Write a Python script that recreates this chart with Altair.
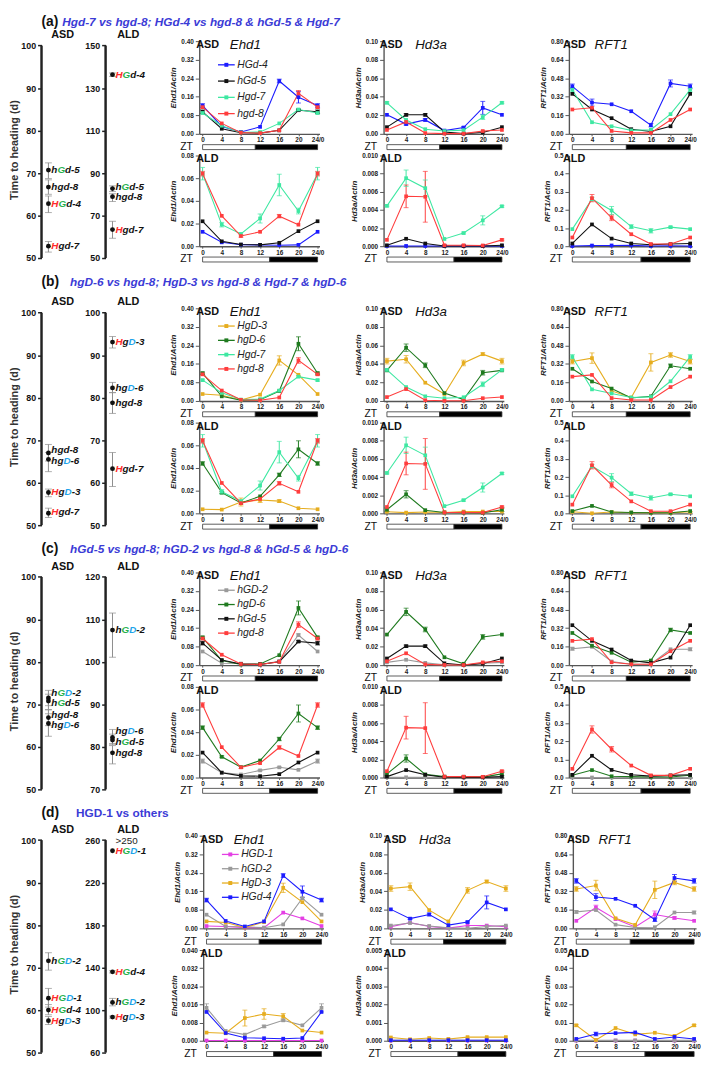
import altair as alt
import pandas as pd

FONT = "Liberation Sans"

ZT = [0, 4, 8, 12, 16, 20, 24]
LIGHT_END = {"ASD": 11, "ALD": 14}

GENE_COLORS = {
    "HGD-1": "#e43fe4", "hGD-2": "#9a9a9a", "HgD-3": "#e6ad1f", "HGd-4": "#1c1cff",
    "hGd-5": "#111111", "hgD-6": "#1f7a1f", "Hgd-7": "#3ee8a2", "hgd-8": "#ff3d3d",
}
LETTER_COLORS = {"H": "#ff2b2b", "G": "#25b04a", "D": "#1ea4ea"}
BOLD_W = {"h": 611, "g": 611, "d": 611, "H": 722, "G": 778, "D": 722, "-": 333}

# ---------------- expression data ----------------
EHD1_ASD = {
    "HGD-1": [0.010, 0.008, 0.003, 0.003, 0.068, 0.043, 0.010],
    "hGD-2": [0.059, 0.008, 0.007, 0.003, 0.017, 0.130, 0.059],
    "HgD-3": [0.030, 0.025, 0.004, 0.027, 0.175, 0.113, 0.030],
    "HGd-4": [0.122, 0.032, 0.008, 0.030, 0.228, 0.158, 0.122],
    "hGd-5": [0.095, 0.022, 0.005, 0.003, 0.015, 0.102, 0.095],
    "hgD-6": [0.120, 0.020, 0.003, 0.005, 0.043, 0.247, 0.120],
    "Hgd-7": [0.090, 0.035, 0.006, 0.008, 0.045, 0.105, 0.090],
    "hgd-8": [0.115, 0.045, 0.005, 0.003, 0.015, 0.175, 0.115],
}
EHD1_ASD_ERR = {
    "hGD-2": [0, 0, 0, 0, 0, 0.005, 0],
    "HgD-3": [0, 0, 0, 0, 0.02, 0, 0],
    "HGd-4": [0.008, 0, 0, 0, 0.008, 0.025, 0.008],
    "hGd-5": [0.008, 0, 0, 0, 0, 0.004, 0.008],
    "hgD-6": [0.005, 0, 0, 0, 0, 0.03, 0.005],
    "Hgd-7": [0.004, 0, 0, 0, 0, 0.004, 0.004],
    "hgd-8": [0.005, 0, 0, 0, 0, 0.012, 0.005],
}
EHD1_ALD = {
    "HGD-1": [0.0001, 0.0001, 0.0001, 0.0001, 0.0001, 0.0001, 0.0001],
    "hGD-2": [0.0145, 0.0043, 0.0027, 0.0063, 0.0090, 0.0068, 0.0145],
    "HgD-3": [0.0036, 0.0033, 0.0100, 0.0118, 0.0108, 0.0045, 0.0036],
    "HGd-4": [0.0127, 0.0034, 0.0013, 0.0011, 0.0009, 0.0012, 0.0127],
    "hGd-5": [0.0220, 0.0043, 0.0015, 0.0012, 0.0030, 0.0133, 0.0220],
    "hgD-6": [0.0440, 0.0183, 0.0092, 0.0150, 0.0340, 0.0565, 0.0440],
    "Hgd-7": [0.0640, 0.0190, 0.0108, 0.0245, 0.0540, 0.0310, 0.0640],
    "hgd-8": [0.0640, 0.0268, 0.0090, 0.0127, 0.0265, 0.0190, 0.0640],
}
EHD1_ALD_ERR = {
    "hGD-2": [0.0018, 0, 0, 0.0005, 0.0005, 0, 0.0018],
    "HgD-3": [0, 0, 0.0035, 0.0023, 0.0012, 0, 0],
    "hgD-6": [0.0015, 0.0008, 0, 0, 0.0015, 0.0075, 0.0015],
    "Hgd-7": [0.0055, 0.002, 0, 0.004, 0.0095, 0.0025, 0.0055],
    "hgd-8": [0.002, 0, 0.001, 0, 0.0015, 0, 0.002],
}
HD3A_ASD = {
    "HGD-1": [0.0018, 0.0062, 0.0020, 0.0003, 0.0030, 0.0030, 0.0018],
    "hGD-2": [0.0030, 0.0058, 0.0025, 0.0005, 0.0002, 0.0020, 0.0030],
    "HgD-3": [0.0430, 0.0450, 0.0197, 0.0075, 0.0410, 0.0505, 0.0430],
    "HGd-4": [0.0205, 0.0105, 0.0150, 0.0035, 0.0068, 0.0280, 0.0205],
    "hGd-5": [0.0072, 0.0205, 0.0205, 0.0020, 0.0002, 0.0015, 0.0072],
    "hgD-6": [0.0330, 0.0575, 0.0385, 0.0085, 0.0015, 0.0305, 0.0330],
    "Hgd-7": [0.0335, 0.0150, 0.0050, 0.0030, 0.0040, 0.0180, 0.0335],
    "hgd-8": [0.0042, 0.0128, 0.0008, 0.0002, 0.0002, 0.0030, 0.0042],
}
HD3A_ASD_ERR = {
    "HgD-3": [0.003, 0.004, 0, 0, 0.003, 0.0015, 0.003],
    "HGd-4": [0, 0.001, 0.0015, 0, 0.001, 0.007, 0],
    "hGd-5": [0, 0.0012, 0.0012, 0, 0, 0, 0],
    "hgD-6": [0, 0.004, 0.0025, 0, 0, 0.0025, 0],
    "Hgd-7": [0.001, 0, 0, 0, 0, 0.0025, 0.001],
}
HD3A_ALD = {
    "HGD-1": [0.00001, 0.00001, 0.00001, 0.00001, 0.00001, 0.00001, 0.00001],
    "hGD-2": [0.00003, 0.00003, 0.00003, 0.00003, 0.00003, 0.00003, 0.00003],
    "HgD-3": [0.00018, 0.00008, 0.00015, 0.00010, 0.00020, 0.00020, 0.00020],
    "HGd-4": [0.00003, 0.00003, 0.00003, 0.00003, 0.00003, 0.00003, 0.00003],
    "hGd-5": [0.00010, 0.00082, 0.00030, 0.00003, 0.00002, 0.00002, 0.00010],
    "hgD-6": [0.00040, 0.00210, 0.00035, 0.00010, 0.00008, 0.00005, 0.00040],
    "Hgd-7": [0.00445, 0.00750, 0.00640, 0.00080, 0.00145, 0.00285, 0.00440],
    "hgd-8": [0.00070, 0.00550, 0.00545, 0.00010, 0.00010, 0.00008, 0.00070],
}
HD3A_ALD_ERR = {
    "hgD-6": [0.0002, 0.0004, 0, 0, 0, 0, 0.0002],
    "Hgd-7": [0.0001, 0.0009, 0.0009, 0, 0.0001, 0.0005, 0.0001],
    "hgd-8": [0, 0.00125, 0.0028, 0, 0, 0, 0.0001],
}
RFT1_ASD = {
    "HGD-1": [0.065, 0.180, 0.080, 0.012, 0.120, 0.090, 0.065],
    "hGD-2": [0.142, 0.158, 0.032, 0.008, 0.010, 0.137, 0.137],
    "HgD-3": [0.340, 0.370, 0.087, 0.030, 0.333, 0.397, 0.340],
    "HGd-4": [0.410, 0.270, 0.255, 0.195, 0.075, 0.435, 0.410],
    "hGd-5": [0.345, 0.210, 0.135, 0.040, 0.020, 0.065, 0.345],
    "hgD-6": [0.278, 0.168, 0.107, 0.026, 0.040, 0.304, 0.278],
    "Hgd-7": [0.380, 0.100, 0.065, 0.030, 0.035, 0.170, 0.380],
    "hgd-8": [0.210, 0.225, 0.025, 0.008, 0.008, 0.120, 0.210],
}
RFT1_ASD_ERR = {
    "HGD-1": [0, 0.02, 0, 0, 0.03, 0.01, 0],
    "hGD-2": [0.012, 0, 0, 0, 0, 0, 0.012],
    "HgD-3": [0.02, 0.045, 0, 0, 0.075, 0.02, 0.02],
    "HGd-4": [0.02, 0.03, 0, 0, 0.015, 0.03, 0.02],
    "hgD-6": [0, 0, 0, 0, 0, 0.015, 0],
    "Hgd-7": [0.02, 0, 0, 0, 0, 0, 0.02],
}
RFT1_ALD = {
    "HGD-1": [0.0001, 0.0001, 0.0001, 0.0001, 0.0001, 0.0001, 0.0001],
    "hGD-2": [0.0002, 0.0002, 0.0002, 0.0002, 0.0002, 0.0002, 0.0002],
    "HgD-3": [0.0085, 0.0004, 0.0070, 0.0035, 0.0044, 0.0027, 0.0085],
    "HGd-4": [0.0010, 0.0037, 0.0042, 0.0046, 0.0010, 0.0021, 0.0010],
    "hGd-5": [0.015, 0.120, 0.042, 0.015, 0.008, 0.012, 0.015],
    "hgD-6": [0.0125, 0.041, 0.007, 0.005, 0.003, 0.003, 0.0125],
    "Hgd-7": [0.094, 0.260, 0.197, 0.108, 0.085, 0.105, 0.094],
    "hgd-8": [0.048, 0.265, 0.156, 0.066, 0.012, 0.012, 0.048],
}
RFT1_ALD_ERR = {
    "HgD-3": [0.0005, 0, 0, 0, 0, 0, 0.0005],
    "HGd-4": [0, 0.001, 0, 0, 0, 0, 0],
    "Hgd-7": [0, 0.01, 0.022, 0.01, 0.012, 0.005, 0],
    "hgd-8": [0, 0.02, 0.015, 0, 0, 0, 0],
}

# ---------------- heading-time data ----------------
A_ASD_GENES = ["hGd-5", "hgd-8", "HGd-4", "Hgd-7"]
A_ASD_MEAN = [70.7, 66.7, 62.8, 52.8]
A_ASD_LOW = [68.7, 65.0, 60.7, 51.4]
A_ASD_HIGH = [72.4, 68.4, 64.6, 53.9]
A_ALD_GENES = ["HGd-4", "hGd-5", "hgd-8", "Hgd-7"]
A_ALD_MEAN = [136.3, 82.7, 78.9, 63.4]
A_ALD_LOW = [135.5, 81.3, 76.6, 59.3]
A_ALD_HIGH = [137.1, 84.0, 80.3, 67.3]
A_ALD_LABEL_Y = [136.3, 83.6, 78.6, 63.4]

B_ASD_GENES = ["hgd-8", "hgD-6", "HgD-3", "Hgd-7"]
B_ASD_MEAN = [67.0, 65.5, 57.7, 52.8]
B_ASD_LOW = [65.1, 62.6, 56.7, 51.8]
B_ASD_HIGH = [69.0, 67.1, 58.5, 54.0]
B_ASD_LABEL_Y = [67.8, 65.2, 57.7, 53.0]
B_ALD_GENES = ["HgD-3", "hgD-6", "hgd-8", "Hgd-7"]
B_ALD_MEAN = [93.1, 82.3, 78.8, 63.3]
B_ALD_LOW = [91.7, 81.2, 76.3, 59.1]
B_ALD_HIGH = [94.4, 83.6, 81.2, 67.1]

C_ASD_GENES = ["hGD-2", "hGd-5", "hgd-8", "hgD-6"]
C_ASD_MEAN = [71.5, 70.8, 66.9, 65.5]
C_ASD_LOW = [69.7, 68.8, 65.0, 62.5]
C_ASD_HIGH = [73.3, 72.4, 68.7, 67.8]
C_ASD_LABEL_Y = [72.7, 70.3, 67.6, 65.2]
C_ALD_GENES = ["hGD-2", "hgD-6", "hGd-5", "hgd-8"]
C_ALD_MEAN = [107.5, 82.2, 81.6, 78.6]
C_ALD_LOW = [101.1, 80.8, 80.5, 76.0]
C_ALD_HIGH = [111.5, 84.1, 83.0, 80.3]
C_ALD_LABEL_Y = [107.5, 83.7, 81.2, 78.5]

D_ASD_GENES = ["hGD-2", "HGD-1", "HGd-4", "HgD-3"]
D_ASD_MEAN = [71.6, 62.8, 60.0, 57.5]
D_ASD_LOW = [69.4, 60.7, 58.9, 56.6]
D_ASD_HIGH = [73.5, 65.1, 61.3, 58.5]
D_ALD_GENES = ["HGD-1", "HGd-4", "hGD-2", "HgD-3"]
D_ALD_MEAN = [250.0, 136.0, 107.2, 93.4]
D_ALD_LOW = [250.0, 135.0, 104.0, 92.5]
D_ALD_HIGH = [250.0, 137.0, 111.0, 94.3]
D_ALD_NOTE = ">250"
D_ALD_NOTE_Y = 259.5

SEC_A_GENES = ["HGd-4", "hGd-5", "Hgd-7", "hgd-8"]
SEC_B_GENES = ["HgD-3", "hgD-6", "Hgd-7", "hgd-8"]
SEC_C_GENES = ["hGD-2", "hgD-6", "hGd-5", "hgd-8"]
SEC_D_GENES = ["HGD-1", "hGD-2", "HgD-3", "HGd-4"]

SEC_TITLES = [
    ("(a)", "Hgd-7 vs hgd-8; HGd-4 vs hgd-8 & hGd-5 & Hgd-7", True, 21),
    ("(b)", "hgD-6 vs hgd-8; HgD-3 vs hgd-8 & Hgd-7 & hgD-6", True, 29),
    ("(c)", "hGd-5 vs hgd-8; hGD-2 vs hgd-8 & hGd-5 & hgD-6", True, 29),
    ("(d)", "HGD-1 vs others", False, 35),
]
# legend placement inside the Ehd1 ASD panel: (first row, row step) in px
LEGEND_ROWS = [(24, 16.5), (18, 14.5), (18, 14.5), (19, 14.5)]
HEADER_GAP = [0, 8, 5, 4]

DOT_H = 220
DOT_AX = 215.5
DOT_PAD = 4.5
LBL_SIZE = 10


def label_rows(name, x0, y, size):
    rows = []
    x = x0
    for ch in name:
        rows.append({"tx": x, "ly": y, "t": ch, "c": LETTER_COLORS.get(ch, "#111111")})
        x += BOLD_W.get(ch, 556) * size / 1000.0
    return rows


def dot_panel(cond, genes, mean, low, high, laby, lo, hi, step, width, ytitle, note=None, note_y=None):
    top = hi + DOT_PAD * (hi - lo) / DOT_AX
    ysc = alt.Scale(domain=[lo, top], nice=False, zero=False)
    ax_kw = dict(values=list(range(lo, hi + 1, step)), domain=False, grid=False, tickSize=4,
                 tickWidth=1.5, tickColor="#222222", labelFontSize=9, labelFontWeight="bold",
                 labelColor="#111111", labelPadding=2, labelFlush=False, labelOverlap=False)
    if ytitle:
        yax = alt.Axis(title=ytitle, titleFontSize=11, titleFontWeight="bold", titleColor="#333333",
                       titlePadding=1, **ax_kw)
    else:
        yax = alt.Axis(title=None, **ax_kw)
    xsc = alt.Scale(domain=[0, width], nice=False, zero=False)

    axis_line = alt.Chart(pd.DataFrame({"a": [lo], "b": [hi]})).mark_rule(
        strokeWidth=2.5, color="#222222").encode(
        x=alt.value(0), y=alt.Y("a:Q", scale=ysc, axis=yax), y2="b:Q")
    pts = pd.DataFrame({"gene": genes, "v": mean, "lo": low, "hi": high})
    errs = pts[pts["hi"] > pts["lo"]]
    err_rule = alt.Chart(errs).mark_rule(color="#8c8c8c", strokeWidth=1).encode(
        x=alt.value(7), y=alt.Y("lo:Q", scale=ysc, axis=yax), y2="hi:Q")
    cap_lo = alt.Chart(errs).mark_tick(orient="horizontal", size=7, thickness=1, color="#8c8c8c").encode(
        x=alt.value(7), y=alt.Y("lo:Q", scale=ysc, axis=yax))
    cap_hi = alt.Chart(errs).mark_tick(orient="horizontal", size=7, thickness=1, color="#8c8c8c").encode(
        x=alt.value(7), y=alt.Y("hi:Q", scale=ysc, axis=yax))
    dots = alt.Chart(pts).mark_circle(size=24, color="#111111", opacity=1).encode(
        x=alt.value(7), y=alt.Y("v:Q", scale=ysc, axis=yax))
    rows = []
    for g, y in zip(genes, laby):
        rows += label_rows(g, 10, y, LBL_SIZE)
    labels = alt.Chart(pd.DataFrame(rows)).mark_text(
        align="left", baseline="middle", fontSize=LBL_SIZE, fontStyle="italic", fontWeight="bold").encode(
        x=alt.X("tx:Q", scale=xsc, axis=None), y=alt.Y("ly:Q", scale=ysc, axis=yax),
        text="t:N", color=alt.Color("c:N", scale=None))
    layers = [axis_line, err_rule, cap_lo, cap_hi, dots, labels]
    if note:
        layers.append(alt.Chart(pd.DataFrame({"t": [note], "tx": [10], "ly": [note_y]})).mark_text(
            align="left", baseline="middle", fontSize=10, color="#222222").encode(
            x=alt.X("tx:Q", scale=xsc, axis=None), y=alt.Y("ly:Q", scale=ysc, axis=yax), text="t:N"))
    return alt.layer(*layers).properties(
        width=width, height=DOT_H,
        title=alt.TitleParams(cond, fontSize=11, fontWeight="bold", anchor="middle", frame="group",
                              offset=1, color="#111111"))


def legend_layers(genes, r0, dr):
    out = []
    for i, g in enumerate(genes):
        y = r0 + dr * i
        one = pd.DataFrame({"gene": [g]})
        c = GENE_COLORS[g]
        out.append(alt.Chart(one).mark_rule(strokeWidth=1.3, color=c).encode(
            x=alt.value(19), x2=alt.value(36), y=alt.value(y)))
        out.append(alt.Chart(one).mark_point(filled=True, shape="square", size=16, opacity=1, color=c).encode(
            x=alt.value(27.5), y=alt.value(y)))
        out.append(alt.Chart(one).mark_text(align="left", baseline="middle", fontSize=10.5, fontStyle="italic",
                                            color="#222222").encode(
            x=alt.value(38.5), y=alt.value(y), text="gene:N"))
    return out


def line_panel(assay, cond, genes, vals, errs, ymax, step, fmt, width, height, legend_rows, txt_dx, title_dx):
    df = pd.DataFrame([{"gene": g, "zt": z, "v": vals[g][i]} for g in genes for i, z in enumerate(ZT)])
    erows = []
    for g in genes:
        e = errs.get(g)
        if e:
            for i, z in enumerate(ZT):
                if e[i] > 0:
                    v = vals[g][i]
                    erows.append({"gene": g, "zt": z, "lo": max(0.0, v - e[i]), "hi": v + e[i]})
    nt = int(round(ymax / step)) + 1
    yvals = [round(step * k, 6) for k in range(nt)]
    xsc = alt.Scale(domain=[-0.7, 24.4], nice=False, zero=False)
    ysc = alt.Scale(domain=[0, ymax], nice=False, zero=True)
    xax = alt.Axis(values=ZT, labelExpr="datum.value == 24 ? '24/0' : datum.label", title="ZT",
                   titleFontSize=10.5, titleFontWeight="normal", titleColor="#111111", titleX=-7, titleY=13,
                   titleAlign="right", titleBaseline="middle", labelFontSize=6.5, labelFontWeight="bold",
                   labelColor="#222222", labelPadding=1, labelFlush=False, labelOverlap=False, tickSize=2,
                   tickColor="#555555", domainColor="#555555", domainWidth=1.4, grid=False)
    yax = alt.Axis(values=yvals, format=fmt, title=f"{assay}/Actin", titleFontSize=8, titleFontStyle="italic",
                   titleFontWeight="bold", titleColor="#222222", titlePadding=3, labelFontSize=6.5,
                   labelFontWeight="bold", labelColor="#222222", labelPadding=2, labelFlush=False,
                   labelOverlap=False, tickSize=4, tickColor="#555555", domainColor="#555555",
                   domainWidth=1.4, grid=False)
    cscale = alt.Scale(domain=genes, range=[GENE_COLORS[g] for g in genes])
    col = alt.Color("gene:N", scale=cscale, legend=None)

    X = alt.X("zt:Q", scale=xsc, axis=xax)
    layers = []
    bar = alt.Chart(pd.DataFrame({"s": [0, LIGHT_END[cond]], "e": [LIGHT_END[cond], 24],
                                  "p": ["light", "dark"]})).mark_rect(stroke="#333333", strokeWidth=0.8).encode(
        x=alt.X("s:Q", scale=xsc, axis=xax), x2="e:Q",
        y=alt.value(height + 11), y2=alt.value(height + 16),
        fill=alt.Fill("p:N", scale=alt.Scale(domain=["light", "dark"], range=["#ffffff", "#000000"]), legend=None))
    layers.append(bar)
    layers.append(alt.Chart(df).mark_line(strokeWidth=1.1).encode(
        x=X, y=alt.Y("v:Q", scale=ysc, axis=yax), color=col))
    if erows:
        edf = pd.DataFrame(erows)
        layers.append(alt.Chart(edf).mark_rule(strokeWidth=1).encode(
            x=X, y=alt.Y("lo:Q", scale=ysc, axis=yax), y2="hi:Q", color=col))
        layers.append(alt.Chart(edf).mark_tick(orient="horizontal", size=5, thickness=1).encode(
            x=X, y=alt.Y("lo:Q", scale=ysc, axis=yax), color=col))
        layers.append(alt.Chart(edf).mark_tick(orient="horizontal", size=5, thickness=1).encode(
            x=X, y=alt.Y("hi:Q", scale=ysc, axis=yax), color=col))
    layers.append(alt.Chart(df).mark_point(filled=True, shape="square", size=14, opacity=1).encode(
        x=X, y=alt.Y("v:Q", scale=ysc, axis=yax), color=col))
    layers.append(alt.Chart(pd.DataFrame({"t": [cond]})).mark_text(
        align="left", baseline="middle", fontSize=11, fontWeight="bold", color="#111111").encode(
        x=alt.value(txt_dx), y=alt.value(4), text="t:N"))
    if cond == "ASD":
        layers.append(alt.Chart(pd.DataFrame({"t": [assay]})).mark_text(
            align="left", baseline="middle", fontSize=13.5, fontStyle="italic", color="#111111").encode(
            x=alt.value(title_dx), y=alt.value(4), text="t:N"))
        layers.append(alt.Chart(pd.DataFrame({"t": [0]})).mark_rule(opacity=0).encode(
            x=alt.value(0), y=alt.value(-10), y2=alt.value(-9)))
    if legend_rows is not None:
        layers += legend_layers(genes, *legend_rows)
    return alt.layer(*layers).properties(width=width, height=height)


def indep(c):
    return c.resolve_scale(color="independent")


def header(tag, text, italic, dx):
    t1 = alt.Chart(pd.DataFrame({"t": [tag]})).mark_text(
        align="left", baseline="middle", fontSize=14, fontWeight="bold", color="#111111").encode(
        x=alt.value(0), y=alt.value(7), text="t:N")
    t2 = alt.Chart(pd.DataFrame({"t": [text]})).mark_text(
        align="left", baseline="middle", fontSize=12, fontWeight="bold",
        fontStyle="italic" if italic else "normal", color="#3b3bd6").encode(
        x=alt.value(dx), y=alt.value(7), text="t:N")
    return alt.layer(t1, t2).properties(width=10, height=14)


def column(assay, genes, asd, asd_err, ald, ald_err, asd_spec, ald_spec, width, legend_rows, txt_dx, title_dx):
    top = line_panel(assay, "ASD", genes, asd, asd_err, *asd_spec, width, 94, legend_rows, txt_dx, title_dx)
    bot = line_panel(assay, "ALD", genes, ald, ald_err, *ald_spec, width, 92, None, txt_dx, title_dx)
    return indep(alt.vconcat(top, bot, spacing=0))


def section(idx, genes, dA, dL, ald_specs):
    tag, text, italic, dx = SEC_TITLES[idx]
    colE = column("Ehd1", genes, EHD1_ASD, EHD1_ASD_ERR, EHD1_ALD, EHD1_ALD_ERR,
                  (0.40, 0.08, ".2f"), ald_specs[0], 122, LEGEND_ROWS[idx], -3, 31)
    colH = column("Hd3a", genes, HD3A_ASD, HD3A_ASD_ERR, HD3A_ALD, HD3A_ALD_ERR,
                  (0.10, 0.02, ".2f"), ald_specs[1], 122, None, -4, 32)
    colR = column("RFT1", genes, RFT1_ASD, RFT1_ASD_ERR, RFT1_ALD, RFT1_ALD_ERR,
                  (0.80, 0.16, ".2f"), ald_specs[2], 125, None, -6, 26)
    b1 = indep(alt.hconcat(dA, dL, spacing=0))
    b2 = indep(alt.hconcat(b1, colE, spacing=19))
    b3 = indep(alt.hconcat(b2, colH, spacing=26))
    b4 = indep(alt.hconcat(b3, colR, spacing=31))
    return indep(alt.vconcat(header(tag, text, italic, dx), b4, spacing=HEADER_GAP[idx]))


STD_ALD = [(0.08, 0.02, ".2f"), (0.010, 0.002, ".3f"), (0.5, 0.1, ".1f")]
D_ALD = [(0.040, 0.008, ".3f"), (0.005, 0.001, ".3f"), (0.05, 0.01, ".2f")]
YT = "Time to heading (d)"

secA = section(0, SEC_A_GENES,
               dot_panel("ASD", A_ASD_GENES, A_ASD_MEAN, A_ASD_LOW, A_ASD_HIGH, A_ASD_MEAN, 50, 100, 10, 43, YT),
               dot_panel("ALD", A_ALD_GENES, A_ALD_MEAN, A_ALD_LOW, A_ALD_HIGH, A_ALD_LABEL_Y, 50, 150, 20, 46, None),
               STD_ALD)
secB = section(1, SEC_B_GENES,
               dot_panel("ASD", B_ASD_GENES, B_ASD_MEAN, B_ASD_LOW, B_ASD_HIGH, B_ASD_LABEL_Y, 50, 100, 10, 43, YT),
               dot_panel("ALD", B_ALD_GENES, B_ALD_MEAN, B_ALD_LOW, B_ALD_HIGH, B_ALD_MEAN, 50, 100, 10, 46, None),
               STD_ALD)
secC = section(2, SEC_C_GENES,
               dot_panel("ASD", C_ASD_GENES, C_ASD_MEAN, C_ASD_LOW, C_ASD_HIGH, C_ASD_LABEL_Y, 50, 100, 10, 43, YT),
               dot_panel("ALD", C_ALD_GENES, C_ALD_MEAN, C_ALD_LOW, C_ALD_HIGH, C_ALD_LABEL_Y, 70, 120, 10, 46, None),
               STD_ALD)
secD = section(3, SEC_D_GENES,
               dot_panel("ASD", D_ASD_GENES, D_ASD_MEAN, D_ASD_LOW, D_ASD_HIGH, D_ASD_MEAN, 50, 100, 10, 43, YT),
               dot_panel("ALD", D_ALD_GENES, D_ALD_MEAN, D_ALD_LOW, D_ALD_HIGH, D_ALD_MEAN, 60, 260, 40, 46, None,
                         note=D_ALD_NOTE, note_y=D_ALD_NOTE_Y),
               D_ALD)

chart = indep(alt.vconcat(secA, secB, secC, secD, spacing=10)).properties(
    padding={"left": 0, "top": 0, "right": 0, "bottom": 0}
).configure(font=FONT).configure_view(stroke=None)

chart.save("out.html", embed_options={"renderer": "svg", "actions": False})
